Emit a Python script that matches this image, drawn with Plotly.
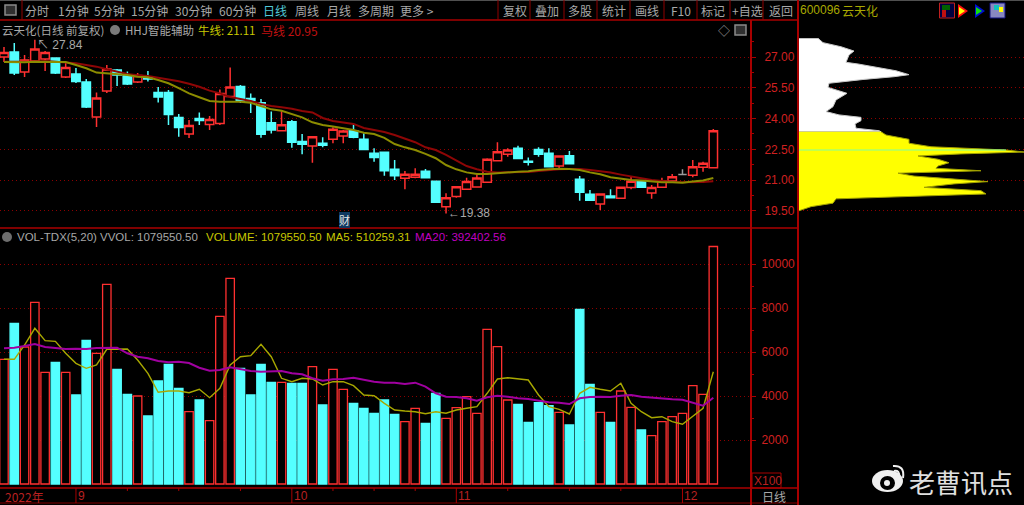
import plotly.graph_objects as go

W, H = 1024, 505
FONT = "Liberation Sans, Noto Sans CJK SC, sans-serif"
CJK = "Noto Sans CJK SC, Liberation Sans, sans-serif"

# ---------------- data ----------------
price_open = [27.00,27.24,26.27,26.81,26.90,26.95,26.03,26.17,25.78,24.08,25.34,26.37,26.10,25.78,26.04,25.27,25.27,24.05,23.25,24.00,
              23.71,23.76,25.08,25.56,24.98,24.77,23.80,23.41,23.85,22.89,22.67,22.80,22.99,23.15,23.41,22.99,22.31,22.36,21.53,21.09,
              21.14,21.43,20.95,19.70,20.20,20.56,20.67,20.90,21.95,22.26,22.55,21.92,22.50,22.31,21.69,22.19,21.04,20.31,19.84,20.23,
              20.12,20.64,20.96,20.38,20.65,20.96,21.28,21.24,21.63,21.61]
price_close = [27.22,26.22,26.85,27.39,27.22,26.22,26.49,25.81,24.57,25.00,26.42,26.12,25.69,26.10,25.93,25.05,24.20,23.57,23.66,23.91,
               23.96,25.22,25.54,24.86,24.88,23.24,23.44,23.70,22.85,22.75,23.12,22.70,23.48,23.40,23.09,22.50,22.10,21.46,21.22,21.29,
               21.29,21.12,19.92,20.15,20.68,20.93,21.11,22.02,22.39,22.47,22.05,21.87,22.26,21.66,22.18,21.80,20.41,20.02,20.33,20.15,
               20.65,20.95,20.65,20.64,20.96,21.17,21.28,21.66,21.82,23.41]
price_high = [27.49,27.68,27.10,27.84,27.29,26.95,26.71,26.46,25.93,25.27,26.61,26.42,26.29,26.22,26.32,25.54,25.39,24.22,23.93,24.30,
              24.13,25.42,26.49,25.64,25.22,24.95,24.34,24.42,23.93,23.25,23.12,23.09,23.58,23.44,23.74,23.28,22.55,22.36,21.98,21.45,
              21.58,21.55,20.95,20.36,20.68,21.12,21.29,22.07,22.85,22.55,22.68,22.11,22.60,22.55,22.18,22.42,21.20,20.52,20.33,20.56,
              20.67,21.17,21.01,20.77,21.12,21.30,21.53,21.98,21.90,23.49]
price_low = [26.76,26.12,26.03,26.71,26.32,26.17,25.98,25.73,24.52,23.59,25.25,25.59,25.64,25.73,25.81,24.78,23.69,23.12,23.06,23.69,
             23.44,23.69,25.05,24.76,24.27,23.07,23.27,23.40,22.58,22.26,21.85,22.60,22.80,22.80,23.04,22.47,21.90,21.22,21.01,20.56,
             21.09,21.09,19.89,19.38,20.15,20.52,20.65,20.90,21.95,22.14,22.03,21.71,22.14,21.63,21.53,21.77,20.00,20.00,19.55,20.12,
             20.12,20.56,20.62,20.10,20.65,20.93,21.24,21.14,21.41,21.61]
ma_horse = [26.77,26.76,26.76,26.77,26.81,26.77,26.74,26.69,26.61,26.53,26.40,26.28,26.17,26.11,26.07,25.99,25.91,25.82,25.70,25.55,
            25.36,25.23,25.05,24.94,24.86,24.71,24.61,24.55,24.48,24.37,24.30,24.03,23.88,23.81,23.74,23.54,23.44,23.35,23.20,23.01,
            22.85,22.60,22.47,22.23,21.95,21.69,21.53,21.41,21.37,21.37,21.39,21.40,21.45,21.50,21.53,21.55,21.55,21.50,21.45,21.37,
            21.27,21.17,21.09,21.01,20.95,20.91,20.90,20.90,20.91,20.95]
ma_ox = [26.76,26.74,26.74,26.77,26.77,26.77,26.76,26.61,26.45,26.24,26.21,26.17,26.12,26.04,26.01,25.88,25.72,25.48,25.23,25.04,
         24.86,24.82,24.82,24.82,24.77,24.61,24.45,24.38,24.22,24.06,23.82,23.69,23.61,23.53,23.44,23.31,23.25,23.06,22.76,22.60,
         22.47,22.28,22.07,21.74,21.53,21.38,21.30,21.30,21.34,21.40,21.41,21.43,21.50,21.53,21.56,21.55,21.50,21.38,21.29,21.14,
         21.07,21.01,20.98,20.93,20.90,20.90,20.88,20.93,20.98,21.11]
volume = [5668,7305,6227,8259,5077,5532,5077,4045,6532,5941,9077,5214,4077,4000,3091,4682,5441,4350,3287,3818,
          2877,7623,9350,5259,4045,5441,4623,4623,4577,4577,5332,3591,5214,4305,3668,3441,3214,3818,3168,2832,
          3441,2759,4123,2986,3468,3968,3214,7032,6241,3818,3623,2805,3695,3559,3259,2682,7941,4532,3259,2805,
          4227,3486,2455,2195,2832,3059,3214,4468,4077,10795.5]
vol_ma5 = [5668,5668,6318,7077,6514,6486,5941,5486,5259,5409,6123,6136,6136,5636,5032,4168,4227,4227,4150,4305,
           3923,4350,5409,5786,5832,6350,5786,4805,4650,4805,4773,4500,4650,4650,4468,4045,4014,3668,3364,3318,
           3286,3195,3286,3214,3364,3441,3514,4123,4773,4832,4786,4727,4045,3514,3395,3182,4123,4395,4305,4227,
           4577,3668,3286,3014,3059,2832,2714,3059,3441,5102.6]
vol_ma20 = [6168,6195,6273,6364,6227,6182,6136,6150,6136,6182,6195,6195,5941,5786,5714,5591,5532,5559,5500,5286,
            5150,5182,5305,5227,5136,5105,5105,5136,5032,4986,4805,4695,4759,4773,4832,4727,4650,4605,4605,4545,
            4605,4423,4123,3968,3955,3895,3786,3941,4014,3968,3895,3864,3773,3714,3695,3636,3895,3955,3968,3955,
            4014,4045,3968,3923,3895,3850,3832,3695,3559,3924]
chip_white_price = [27.91,27.70,27.50,27.29,27.10,26.74,26.66,26.48,26.33,26.14,26.04,25.91,25.72,25.52,25.23,24.91,24.58,24.34,24.18,24.06,23.90,23.74,23.53,23.41,23.36]
chip_white_size = [19,24,42,55,50,47,59,80,97,110,95,65,30,29,48,37,34,27,40,62,62,56,57,80,82]
chip_yellow_price = [23.36,23.20,22.99,22.80,22.63,22.47,22.37,22.28,22.18,22.02,21.85,21.69,21.58,21.46,21.34,21.20,20.93,20.82,20.65,20.49,20.33,20.20,20.09,19.88,19.71,19.51]
chip_yellow_size = [82,87,110,110,132,207,225,162,119,139,150,139,137,182,99,115,189,155,125,182,187,99,37,34,12,0]
current_price = 22.47
price_ticks = [19.5, 21.0, 22.5, 24.0, 25.5, 27.0]
volume_ticks = [2000, 4000, 6000, 8000, 10000]
month_starts = {"9": 7, "10": 28, "11": 44, "12": 66}
week_marks = [12, 17, 23, 32, 36, 40, 49, 55, 60]

RED = "#ff3030"
CYAN = "#54ffff"
GRID = "#8c0000"
AXIS = "#a80000"
LABEL = "#d02020"
GRAY = "#a8a8a8"

n = len(price_open)
xs = list(range(n))
# x: pixel = 4 + 10.28 * i
x_range = [(0 - 4) / 10.28, (751 - 4) / 10.28]
p_scale = 20.53
price_range = [27 - (227 - 57) / p_scale, 27 + (57 - 21) / p_scale]
vol_range = [(484 - 487) / 0.022, (484 - 228) / 0.022]


def px(x):
    return x / W


def py(y):
    return 1 - y / H


up = [i for i in xs if price_close[i] > price_open[i]]
down = [i for i in xs if price_close[i] < price_open[i]]
flat = [i for i in xs if price_close[i] == price_open[i]]


def candle(idx, color, fill):
    return go.Candlestick(
        x=idx,
        open=[price_open[i] for i in idx],
        high=[price_high[i] for i in idx],
        low=[price_low[i] for i in idx],
        close=[price_close[i] for i in idx],
        increasing=dict(line=dict(color=color, width=1.5), fillcolor=fill),
        decreasing=dict(line=dict(color=color, width=1.5), fillcolor=fill),
        xaxis="x", yaxis="y", showlegend=False, hoverinfo="skip",
    )


fig = go.Figure()
fig.add_trace(candle(up, RED, "#000000"))
fig.add_trace(candle(down, CYAN, CYAN))
fig.add_trace(candle(flat, "#9a9a9a", "#9a9a9a"))
fig.add_trace(go.Scatter(x=xs, y=ma_horse, mode="lines", line=dict(color="#8e0606", width=2), xaxis="x", yaxis="y", showlegend=False))
fig.add_trace(go.Scatter(x=xs, y=ma_ox, mode="lines", line=dict(color="#8c8c00", width=2), xaxis="x", yaxis="y", showlegend=False))

vol_up = [price_close[i] >= price_open[i] for i in xs]
fig.add_trace(go.Bar(
    x=xs, y=volume, width=0.82,
    marker=dict(color=["#000000" if u else CYAN for u in vol_up],
                line=dict(color=[RED if u else CYAN for u in vol_up], width=1.3)),
    xaxis="x3", yaxis="y2", showlegend=False,
))
fig.add_trace(go.Scatter(x=xs, y=vol_ma5, mode="lines", line=dict(color="#a8a800", width=1.4), xaxis="x3", yaxis="y2", showlegend=False))
fig.add_trace(go.Scatter(x=xs, y=vol_ma20, mode="lines", line=dict(color="#a000a0", width=2), xaxis="x3", yaxis="y2", showlegend=False))

fig.add_trace(go.Scatter(x=chip_white_size, y=chip_white_price, mode="lines", fill="tozerox", fillcolor="#ffffff",
                         line=dict(color="#c8c8c8", width=1), xaxis="x2", yaxis="y", showlegend=False))
fig.add_trace(go.Scatter(x=chip_yellow_size, y=chip_yellow_price, mode="lines", fill="tozerox", fillcolor="#ffff00",
                         line=dict(color="#a0a000", width=1), xaxis="x2", yaxis="y", showlegend=False))
fig.add_trace(go.Scatter(x=[0, 207], y=[current_price, current_price], mode="lines", line=dict(color="#80ffa0", width=1.2),
                         xaxis="x2", yaxis="y", showlegend=False))

# ---------------- chrome ----------------
shapes = []


def hline(x0, x1, y, color=AXIS, width=1):
    shapes.append(dict(type="line", xref="paper", yref="paper", x0=px(x0), x1=px(x1), y0=py(y), y1=py(y), line=dict(color=color, width=width), layer="above"))


def vline(x, y0, y1, color=AXIS, width=1):
    shapes.append(dict(type="line", xref="paper", yref="paper", x0=px(x), x1=px(x), y0=py(y0), y1=py(y1), line=dict(color=color, width=width), layer="above"))


def rect(x0, y0, x1, y1, line=None, fill=None, width=1):
    shapes.append(dict(type="rect", xref="paper", yref="paper", x0=px(x0), x1=px(x1), y0=py(y1), y1=py(y0),
                       line=dict(color=line or "rgba(0,0,0,0)", width=width if line else 0), fillcolor=fill or "rgba(0,0,0,0)", layer="above"))


def circle(x0, y0, x1, y1, line=None, fill=None, width=1):
    shapes.append(dict(type="circle", xref="paper", yref="paper", x0=px(x0), x1=px(x1), y0=py(y1), y1=py(y0),
                       line=dict(color=line or "rgba(0,0,0,0)", width=width if line else 0), fillcolor=fill or "rgba(0,0,0,0)", layer="above"))


def tri(points, fill):
    path = "M " + " L ".join(f"{px(a):.5f} {py(b):.5f}" for a, b in points) + " Z"
    shapes.append(dict(type="path", xref="paper", yref="paper", path=path, fillcolor=fill, line=dict(width=0), layer="above"))


hline(0, 1024, 0.5, "#505050", 1)
hline(0, 798, 20, AXIS, 1.5)
hline(0, 798, 228, "#800000", 2)
hline(0, 798, 488, "#800000", 2)
hline(0, 798, 503, "#800000", 1)
vline(751, 20, 505, AXIS, 2)
vline(798, 0, 505, AXIS, 2)
for sx in [22, 498, 530, 564, 597, 630, 664, 697, 730, 763]:
    vline(sx, 0, 20, "#900000", 1)
for label, i in month_starts.items():
    shapes.append(dict(type="line", xref="x", yref="paper", x0=i, x1=i, y0=py(488), y1=py(503), line=dict(color=AXIS, width=1), layer="above"))
for i in week_marks:
    shapes.append(dict(type="line", xref="x", yref="paper", x0=i, x1=i, y0=py(488), y1=py(491), line=dict(color=AXIS, width=1), layer="above"))
rect(752, 473, 781, 488, line=AXIS)
rect(5, 5, 16, 15, line="#8a8a8a", width=1.5, fill="#303030")
rect(735, 25, 746, 35, line="#8a8a8a", width=1.5, fill="#303030")
circle(110, 25, 120, 35, fill="#7a7a7a")
circle(2, 232, 12, 242, fill="#6e6e6e")
# tool icons, top right
rect(939.5, 3, 954.5, 18, line="#c02020", fill="#000040")
rect(942, 5, 950, 10, fill="#006000")
rect(942, 10, 946, 17, fill="#c01010")
tri([(958, 4), (968, 11), (958, 18)], "#ff1010")
tri([(959, 7), (965, 11), (959, 15)], "#ffff00")
tri([(975, 4), (985, 11), (975, 18)], "#0010d0")
tri([(976, 7), (982, 11), (976, 15)], "#10e010")
rect(990, 3, 1005, 18, line="#101080", fill="#8888c0")
rect(994, 5, 999, 10, fill="#10c0c0")
rect(999, 7, 1003, 12, fill="#ffff00")
# watermark mark
circle(872, 470, 903, 492, fill="#f0f0f0")
circle(880, 476, 895, 490, fill="#000000")
circle(884, 480, 890, 486, fill="#f0f0f0")
shapes.append(dict(type="path", xref="paper", yref="paper",
                   path=f"M {px(893):.5f} {py(466):.5f} Q {px(905):.5f} {py(465):.5f} {px(903):.5f} {py(478):.5f}",
                   line=dict(color="#f0f0f0", width=2), layer="above"))
shapes.append(dict(type="path", xref="paper", yref="paper",
                   path=f"M {px(894):.5f} {py(471):.5f} Q {px(900):.5f} {py(470):.5f} {px(899):.5f} {py(477):.5f}",
                   line=dict(color="#f0f0f0", width=2), layer="above"))

ann = []


def txt(x, y, s, color=GRAY, size=12, anchor="left", family=None, bg=None):
    a = dict(xref="paper", yref="paper", x=px(x), y=py(y), text=s, showarrow=False, xanchor=anchor, yanchor="middle",
             font=dict(color=color, size=size, family=family or CJK), borderpad=0, borderwidth=0)
    if bg:
        a["bgcolor"] = bg
    ann.append(a)


for s, x in [("分时", 37), ("1分钟", 73), ("5分钟", 109), ("15分钟", 149), ("30分钟", 193), ("60分钟", 237),
             ("周线", 307), ("月线", 339), ("多周期", 376), ("更多 >", 417), ("复权", 515), ("叠加", 547), ("多股", 580),
             ("统计", 614), ("画线", 647), ("F10", 681), ("标记", 713), ("+自选", 747), ("返回", 781)]:
    txt(x, 10, s, anchor="center")
txt(275, 10, "日线", "#50c8d8", anchor="center")
txt(800, 10, "600096", "#a8a800", family=FONT)
txt(842, 10, "云天化", "#a8a800")

txt(2, 30, "云天化(日线 前复权)", size=11.5)
txt(125, 30, "HHJ智能辅助", size=11.5)
txt(198, 30, "牛线: 21.11", "#c8c800", size=11.5)
txt(261, 30, "马线 20.95", "#c01010")
txt(724, 30, "◇", "#9a9a9a", anchor="center")
txt(344, 220, "财", "#e8e8e8", size=11, anchor="center", bg="#103860")

txt(17, 237, "VOL-TDX(5,20)", family=FONT, size=11.5)
txt(100, 237, "VVOL: 1079550.50", family=FONT, size=11.5)
txt(206, 237, "VOLUME: 1079550.50", "#c8c800", family=FONT, size=11.5)
txt(326, 237, "MA5: 510259.31", "#c8c800", family=FONT, size=11.5)
txt(415, 237, "MA20: 392402.56", "#c000c0", family=FONT, size=11.5)

for a, xa in [("↖ 27.84", (3, 27.84)), ("←19.38", (43, 19.38))]:
    ann.append(dict(xref="x", yref="y", x=xa[0], y=xa[1], text=a, showarrow=False, xanchor="left", yanchor="middle",
                    xshift=0, yshift=-5 if xa[0] == 3 else 0,
                    font=dict(color=GRAY, size=12, family=FONT)))

txt(5, 496, "2022年", "#b82020", size=12)
for label, i in month_starts.items():
    ann.append(dict(xref="x", yref="paper", x=i, y=py(496), text=label, showarrow=False, xanchor="left", yanchor="middle", xshift=0,
                    font=dict(color="#b82020", size=12, family=FONT)))
txt(754, 481, "X100", "#b82020", size=12, family=FONT)
txt(774, 496, "日线", GRAY, anchor="center")
txt(909, 481, "老曹讯点", "#e0e0e0", size=26)

axis_common = dict(showline=False, zeroline=False, ticks="outside", tickcolor=AXIS, ticklen=4, tickwidth=1,
                   tickfont=dict(color=LABEL, size=12, family=FONT), showgrid=True, gridcolor=GRID, griddash="1px,3px", gridwidth=1)

fig.update_layout(
    width=W, height=H, autosize=False,
    margin=dict(l=0, r=0, t=0, b=0),
    paper_bgcolor="#000000", plot_bgcolor="#000000",
    boxmode="overlay", boxgap=0.18, boxgroupgap=0,
    barmode="overlay",
    showlegend=False, hovermode=False,
    shapes=shapes, annotations=ann,
    xaxis=dict(domain=[0, px(751)], range=x_range, visible=False, rangeslider=dict(visible=False), anchor="y"),
    xaxis3=dict(domain=[0, px(751)], range=x_range, visible=False, anchor="y2"),
    xaxis2=dict(domain=[px(799), 1], range=[0, 225], visible=False, anchor="y"),
    yaxis=dict(domain=[py(227), py(21)], range=price_range, side="right", anchor="x",
               tickvals=price_ticks, ticktext=[f"{v:.2f}" for v in price_ticks], ticklabelstandoff=6,
               minor=dict(tickvals=[v + 0.75 for v in price_ticks], ticks="outside", ticklen=2, tickcolor=AXIS, showgrid=False),
               **axis_common),
    yaxis2=dict(domain=[py(487), py(228)], range=vol_range, side="right", anchor="x3",
                tickvals=volume_ticks, ticktext=[str(v) for v in volume_ticks], ticklabelstandoff=3,
                minor=dict(tickvals=[v + 1000 for v in volume_ticks[:-1]], ticks="outside", ticklen=2, tickcolor=AXIS, showgrid=False),
                **axis_common),
)

fig.write_html("out.html", config=dict(displayModeBar=False),
               post_script="document.body.style.margin='0';document.body.style.background='#000';document.body.style.overflow='hidden';")
